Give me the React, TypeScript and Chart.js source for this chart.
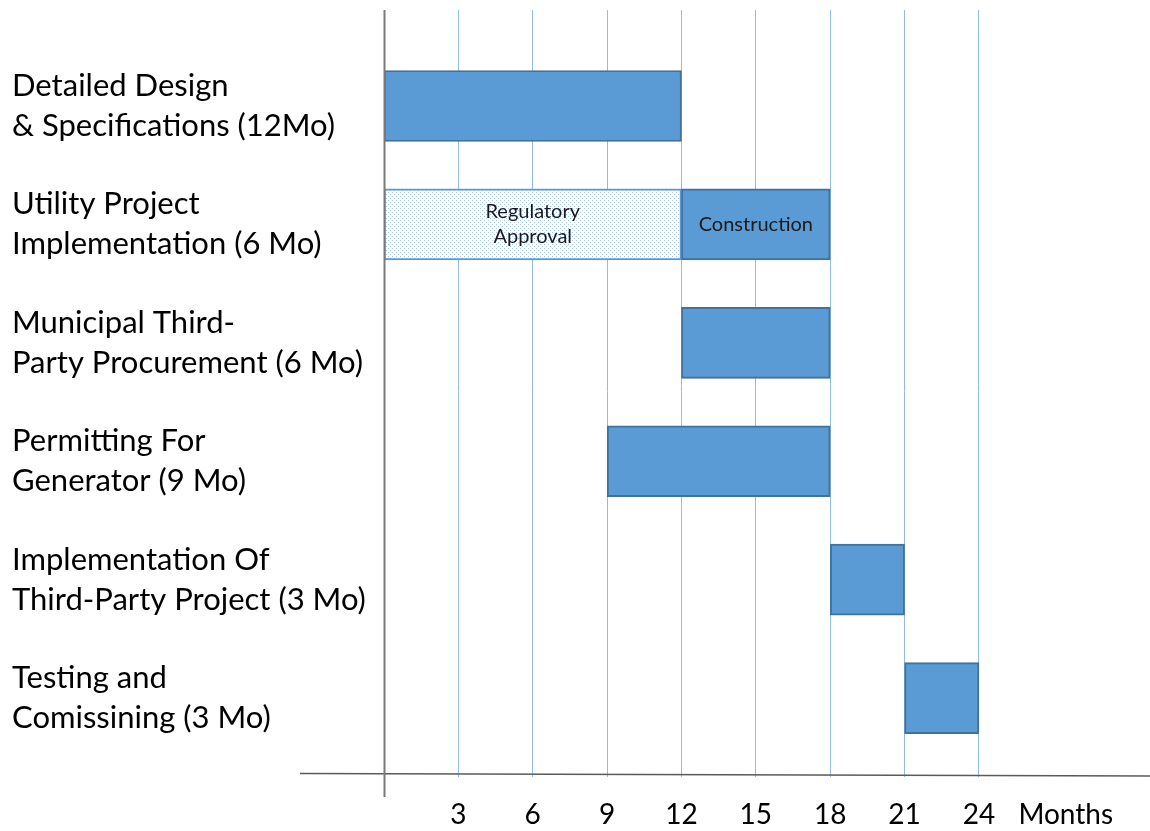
import React, { useEffect, useRef } from "react";
import { Chart, registerables } from "chart.js";

Chart.register(...registerables);

const taskLabels: string[][] = [
  ["Detailed Design", "& Specifications (12Mo)"],
  ["Utility Project", "Implementation (6 Mo)"],
  ["Municipal Third-", "Party Procurement (6 Mo)"],
  ["Permitting For", "Generator (9 Mo)"],
  ["Implementation Of", "Third-Party Project (3 Mo)"],
  ["Testing and", "Comissining (3 Mo)"],
];
const taskStart = [0, 12, 12, 9, 18, 21];
const taskEnd = [12, 18, 18, 18, 21, 24];
const taskBarText: string[][] = [[], ["Construction"], [], [], [], []];

const approvalRow = 1;
const approvalStart = 0;
const approvalEnd = 12;
const approvalText = ["Regulatory", "Approval"];

const monthTicks = [3, 6, 9, 12, 15, 18, 21, 24];
const unitLabel = "Months";
const unitLabelAt = 27.5;

const rowMin = -0.811;
const rowMax = 5.633;

const FONT = "Lato, 'Open Sans', sans-serif";

function makePattern(): CanvasPattern | string {
  const c = document.createElement("canvas");
  c.width = 4;
  c.height = 4;
  const g = c.getContext("2d");
  if (!g) return "#e8f0f8";
  g.fillStyle = "#ffffff";
  g.fillRect(0, 0, 4, 4);
  g.fillStyle = "#a9c8e8";
  g.fillRect(0, 0, 1, 1);
  g.fillRect(2, 2, 1, 1);
  const p = g.createPattern(c, "repeat");
  return p || "#e8f0f8";
}

export default function App() {
  const ref = useRef<HTMLCanvasElement | null>(null);
  useEffect(() => {
    const canvas = ref.current;
    if (!canvas) return;
    const pattern = makePattern();

    const axesPlugin = {
      id: "axesPlugin",
      afterDatasetsDraw(chart: any) {
        const ctx = chart.ctx;
        const xs = chart.scales.x;
        const area = chart.chartArea;
        const x0 = xs.getPixelForValue(0);
        ctx.save();
        // x axis line
        ctx.strokeStyle = "#5a5a5a";
        ctx.lineWidth = 1.5;
        ctx.beginPath();
        ctx.moveTo(300, area.bottom + 0.5);
        ctx.lineTo(chart.width, area.bottom + 3);
        ctx.stroke();
        // y axis line
        ctx.strokeStyle = "#7a7a7a";
        ctx.lineWidth = 2;
        ctx.beginPath();
        ctx.moveTo(x0 + 0.5, area.top);
        ctx.lineTo(x0 + 0.5, area.bottom + 24);
        ctx.stroke();

        // in-bar labels
        ctx.fillStyle = "#1a1a1a";
        ctx.font = `20px ${FONT}`;
        ctx.textAlign = "center";
        ctx.textBaseline = "middle";
        const ys = chart.scales.y;
        const lh = 25;
        const drawLines = (lines: string[], s: number, e: number, row: number) => {
          if (!lines.length) return;
          const cx = (xs.getPixelForValue(s) + xs.getPixelForValue(e)) / 2;
          const cy = ys.getPixelForValue(row);
          const start = cy - ((lines.length - 1) * lh) / 2;
          lines.forEach((t, i) => ctx.fillText(t, cx, start + i * lh));
        };
        taskBarText.forEach((lines, i) => drawLines(lines, taskStart[i], taskEnd[i], i));
        drawLines(approvalText, approvalStart, approvalEnd, approvalRow);
        ctx.restore();
      },
    };

    const chart = new Chart(canvas, {
      type: "bar",
      data: {
        datasets: [
          {
            label: "Tasks",
            data: taskStart.map((s, i) => ({ x: [s, taskEnd[i]], y: i })) as any,
            backgroundColor: "#5b9bd5",
            borderColor: "#41719c",
            borderWidth: 2,
            borderSkipped: false,
            grouped: false,
            barThickness: 71,
          } as any,
          {
            label: "Regulatory Approval",
            data: [{ x: [approvalStart, approvalEnd], y: approvalRow }] as any,
            backgroundColor: pattern as any,
            borderColor: "#5b9bd5",
            borderWidth: 2,
            borderSkipped: false,
            grouped: false,
            barThickness: 71,
          } as any,
        ],
      },
      plugins: [axesPlugin],
      options: {
        indexAxis: "y",
        responsive: false,
        animation: false,
        layout: { padding: { left: 12, top: 10, right: 0, bottom: 0 } },
        plugins: { legend: { display: false }, tooltip: { enabled: false } },
        scales: {
          x: {
            type: "linear",
            min: 0,
            max: 30.9,
            afterFit(scale: any) {
              scale.height = 58;
              scale.paddingLeft = 0;
              scale.paddingRight = 0;
            },
            afterBuildTicks(scale: any) {
              scale.ticks = [...monthTicks.map((v) => ({ value: v })), { value: unitLabelAt }];
            },
            ticks: {
              autoSkip: false,
              maxRotation: 0,
              padding: 21,
              color: "#000000",
              font: { family: FONT, size: 28 },
              callback: (v: any) => (v === unitLabelAt ? unitLabel : String(v)),
            },
            grid: {
              color: (c: any) => (c.tick && c.tick.value === unitLabelAt ? "rgba(0,0,0,0)" : "#92bce3"),
              lineWidth: 1,
              tickLength: 4,
            },
            border: { display: false },
          },
          y: {
            type: "linear",
            reverse: true,
            offset: false,
            min: rowMin,
            max: rowMax,
            afterDataLimits(scale: any) {
              scale.min = rowMin;
              scale.max = rowMax;
            },
            afterFit(scale: any) {
              scale.width = 372;
              scale.paddingTop = 0;
              scale.paddingBottom = 0;
            },
            afterBuildTicks(scale: any) {
              scale.ticks = taskLabels.map((_, i) => ({ value: i }));
            },
            ticks: {
              autoSkip: false,
              crossAlign: "far",
              color: "#000000",
              font: { family: FONT, size: 31, lineHeight: 1.29 },
              callback: (v: any) => taskLabels[v] ?? "",
            },
            grid: { display: false, offset: false },
            border: { display: false },
          },
        },
      } as any,
    });
    return () => chart.destroy();
  }, []);

  return (
    <div style={{ position: "fixed", left: 0, top: 0, width: 1150, height: 831, background: "#fff" }}>
      <canvas ref={ref} width={1150} height={831} />
    </div>
  );
}
